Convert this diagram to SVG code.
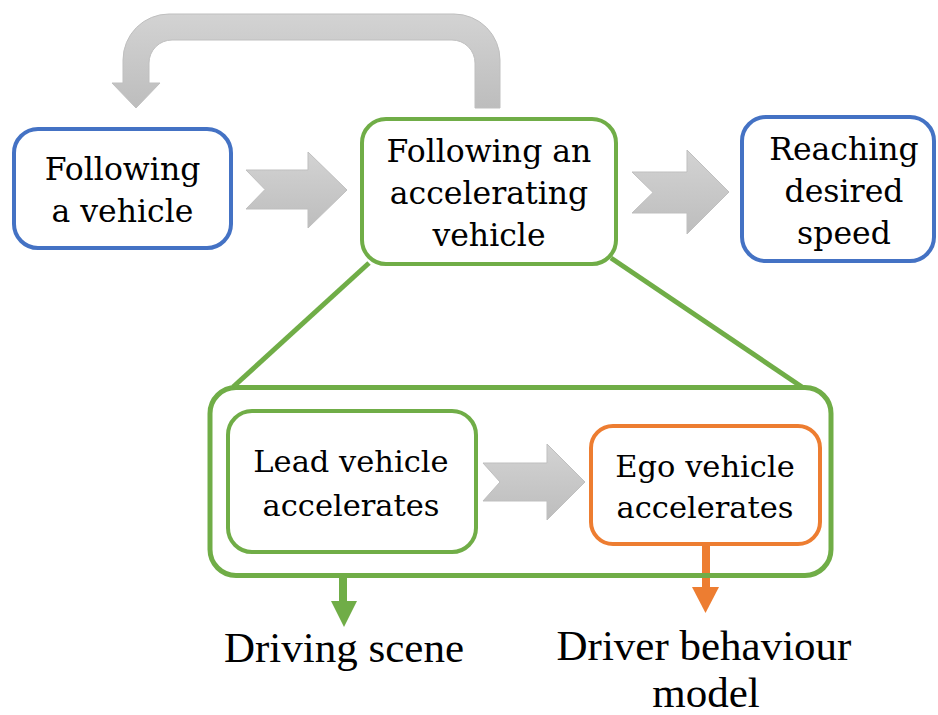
<svg xmlns="http://www.w3.org/2000/svg" width="938" height="715" viewBox="0 0 938 715">
  <defs>
    <linearGradient id="grayFill" x1="0" y1="0" x2="0" y2="1">
      <stop offset="0" stop-color="#D3D3D3"/>
      <stop offset="1" stop-color="#BDBDBD"/>
    </linearGradient>
    <style>
      .box { fill: #FFFFFF; stroke-width: 4; }
      .blue { stroke: #4472C4; }
      .green { stroke: #70AD47; }
      .orange { stroke: #ED7D31; }
      .big { fill: none; stroke: #70AD47; stroke-width: 5; }
      .flow { fill: url(#grayFill); stroke: #BFBFBF; stroke-width: 1; }
      .lbl { font-family: "DejaVu Serif", "Liberation Serif", serif; fill: #000000; text-anchor: middle; }
      .top { font-size: 31.5px; }
      .inner { font-size: 30.5px; }
      .out { font-family: "Liberation Serif", "Times New Roman", serif; font-size: 43px; fill: #000000; text-anchor: middle; }
      .zoomline { stroke: #70AD47; stroke-width: 5; fill: none; }
    </style>
  </defs>

  <!-- connectors: block arrows, zoom-out lines and output arrows -->
  <g id="connectors">
    <!-- loop back from the accelerating state to the following state -->
    <path class="flow" d="M500,108 L500,60 A46,46 0 0 0 454,14 L169,14 A46,46 0 0 0 123,60 L123,83 L112,83 L136,108 L160,83 L149,83 L149,63 A23,23 0 0 1 172,40 L452,40 A23,23 0 0 1 475,63 L475,108 Z"/>
    <!-- state transitions -->
    <path class="flow" d="M246,170 L308,170 L308,152 L347,190 L308,228 L308,209 L246,209 L265,189.5 Z"/>
    <path class="flow" d="M632,172 L687,172 L687,150 L729,192 L687,234 L687,213 L632,213 L653,192.5 Z"/>
    <path class="flow" d="M483,463 L547,463 L547,444 L585,482 L547,520 L547,501 L483,501 L500,482 Z"/>
    <!-- detail expansion lines -->
    <line class="zoomline" x1="369" y1="263" x2="233" y2="387"/>
    <line class="zoomline" x1="611" y1="258" x2="802" y2="387"/>
    <!-- outputs -->
    <rect x="339" y="576" width="8" height="27" fill="#70AD47"/>
    <path d="M331,601 L357,601 L344,627 Z" fill="#70AD47"/>
    <rect x="702" y="544" width="8" height="45" fill="#ED7D31"/>
    <path d="M692,587 L719,587 L705.5,613 Z" fill="#ED7D31"/>
  </g>

  <g id="following-vehicle">
    <rect class="box blue" x="14" y="129" width="217" height="119" rx="24"/>
    <text class="lbl top" x="122.5" y="180">Following</text>
    <text class="lbl top" x="122.5" y="222">a vehicle</text>
  </g>

  <g id="following-accelerating">
    <rect class="box green" x="362" y="119" width="254" height="145" rx="24"/>
    <text class="lbl top" x="489" y="162">Following an</text>
    <text class="lbl top" x="489" y="204">accelerating</text>
    <text class="lbl top" x="489" y="246">vehicle</text>
  </g>

  <g id="reaching-speed">
    <rect class="box blue" x="742" y="117" width="192" height="144" rx="24"/>
    <text class="lbl top" x="844" y="160">Reaching</text>
    <text class="lbl top" x="844" y="202">desired</text>
    <text class="lbl top" x="844" y="244">speed</text>
  </g>

  <g id="scenario-detail">
    <rect class="big" x="210" y="387.5" width="621" height="188" rx="26"/>
  </g>

  <g id="lead-accelerates">
    <rect class="box green" x="228" y="411" width="248" height="141" rx="24"/>
    <text class="lbl inner" x="351" y="472">Lead vehicle</text>
    <text class="lbl inner" x="351" y="516">accelerates</text>
  </g>

  <g id="ego-accelerates">
    <rect class="box orange" x="591" y="426" width="229" height="118" rx="22"/>
    <text class="lbl inner" x="705" y="477">Ego vehicle</text>
    <text class="lbl inner" x="705" y="518">accelerates</text>
  </g>

  <g id="driving-scene">
    <text class="out" x="344" y="662">Driving scene</text>
  </g>

  <g id="driver-model">
    <text class="out" x="704" y="660">Driver behaviour</text>
    <text class="out" x="706" y="707">model</text>
  </g>
</svg>
